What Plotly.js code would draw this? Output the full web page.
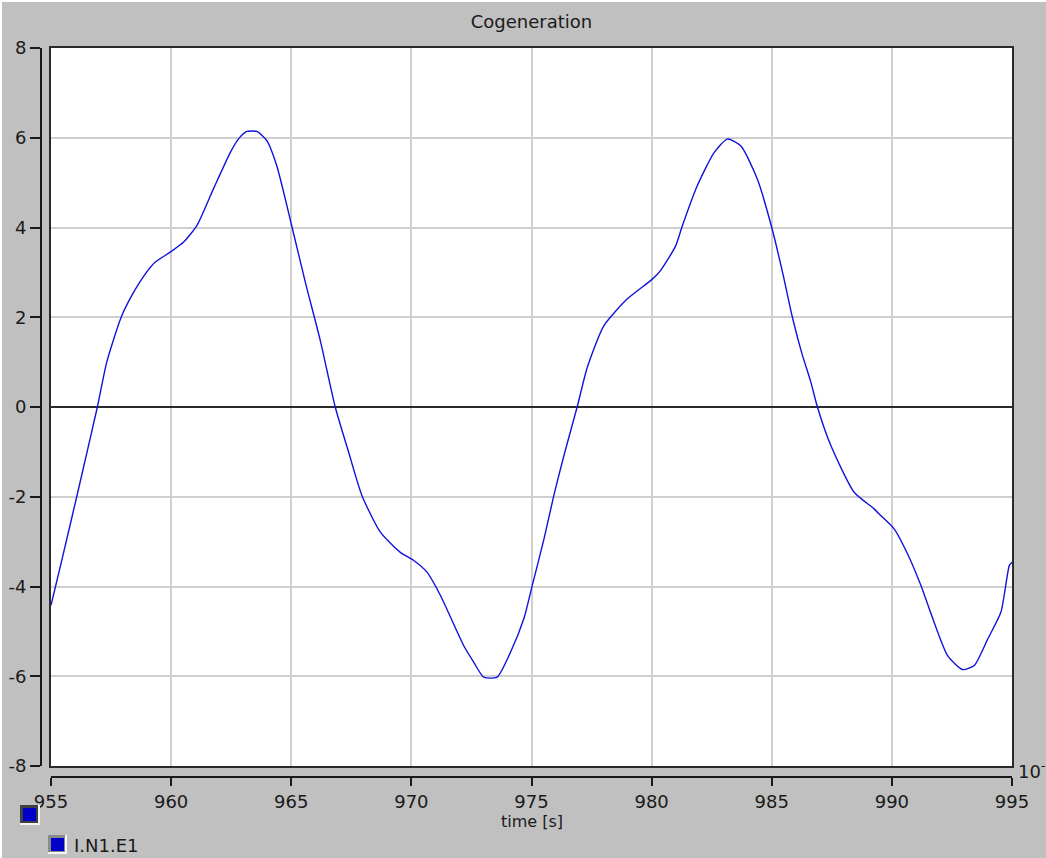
<!DOCTYPE html>
<html>
<head>
<meta charset="utf-8">
<script src="https://cdn.plot.ly/plotly-3.0.1.min.js"></script>
<style>
html,body{margin:0;padding:0;background:#c0c0c0;}
#chart{width:1046px;height:858px;}
</style>
</head>
<body>
<div id="chart"></div>
<script>
// ---- data ----
const timeS = [955.0, 955.5, 956.07, 956.93, 957.32, 957.92, 958.36, 958.92, 959.32, 959.96, 960.51, 961.07, 961.76, 962.46, 962.8, 963.15, 963.57, 963.99, 964.4, 965.02, 965.6, 966.2, 966.83, 967.39, 967.94, 968.71, 969.54, 970.1, 970.65, 971.21, 972.18, 972.6, 973.01, 973.57, 974.13, 974.68, 975.03, 975.52, 975.93, 976.35, 976.9, 977.32, 978.01, 978.99, 980.03, 980.37, 981.0, 981.28, 981.9, 982.6, 983.15, 983.71, 984.4, 985.0, 985.45, 985.86, 986.25, 986.63, 986.9, 987.46, 988.43, 989.26, 989.54, 990.1, 990.65, 991.21, 991.76, 992.32, 992.94, 993.43, 993.99, 994.54, 994.89, 995.0];
const seriesE1 = [-4.42, -3.3, -2.0, 0.0, 1.0, 2.0, 2.48, 2.96, 3.22, 3.45, 3.67, 4.04, 4.86, 5.67, 5.97, 6.14, 6.14, 5.93, 5.37, 4.04, 2.75, 1.5, 0.0, -1.01, -1.97, -2.79, -3.24, -3.42, -3.68, -4.2, -5.32, -5.69, -6.02, -6.02, -5.46, -4.72, -3.98, -2.94, -1.97, -1.08, 0.0, 0.88, 1.81, 2.41, 2.85, 3.04, 3.59, 4.04, 4.93, 5.67, 5.97, 5.82, 5.08, 4.0, 3.0, 2.0, 1.2, 0.55, 0.0, -0.86, -1.9, -2.27, -2.42, -2.72, -3.27, -3.98, -4.8, -5.54, -5.85, -5.76, -5.17, -4.57, -3.53, -3.46];
const seriesName = 'I.N1.E1';
const chartTitle = 'Cogeneration';
const xAxisTitle = 'time [s]';
const xScaleNote = '10<sup>-</sup>';
const xTickVals = [955, 960, 965, 970, 975, 980, 985, 990, 995];
const xTickText = ['955', '960', '965', '970', '975', '980', '985', '990', '995'];
const yTickVals = [-8, -6, -4, -2, 0, 2, 4, 6, 8];
const yTickText = ['-8', '-6', '-4', '-2', '0', '2', '4', '6', '8'];
const xRange = [955, 995];
const yRange = [-8, 8];

// ---- layout helpers (pixel -> paper) ----
const ML = 41, MR = 34, MT = 48, MB = 81, W = 1046, H = 858;
const PW = W - ML - MR, PH = H - MT - MB;
const px = p => (p - ML) / PW;
const py = p => (H - MB - p) / PH;
const FONT = 'DejaVu Sans, sans-serif';

const traces = [
  {
    x: timeS, y: seriesE1, name: seriesName, type: 'scatter', mode: 'lines',
    line: {color: '#1212dc', width: 1.4, shape: 'spline', smoothing: 0.6},
    xaxis: 'x', yaxis: 'y', showlegend: false, hoverinfo: 'x+y'
  },
  {
    x: timeS, y: seriesE1, type: 'scatter', mode: 'lines',
    line: {color: 'rgba(0,0,0,0)', width: 0},
    xaxis: 'x2', yaxis: 'y2', showlegend: false, hoverinfo: 'skip'
  }
];

function rect(x0, y0, x1, y1, fill) {
  return {type: 'rect', xref: 'paper', yref: 'paper', x0: px(x0), x1: px(x1), y0: py(y1), y1: py(y0),
          fillcolor: fill, line: {width: 0}, layer: 'above'};
}

const layout = {
  width: W, height: H,
  paper_bgcolor: '#c0c0c0', plot_bgcolor: '#ffffff',
  margin: {l: ML, r: MR, t: MT, b: MB, pad: 0},
  font: {family: FONT, size: 18, color: '#1a1a1a'},
  title: {text: chartTitle, font: {family: FONT, size: 18, color: '#1a1a1a'},
          xref: 'container', yref: 'container', x: 531.5 / W, xanchor: 'center', y: 1 - 22 / H, yanchor: 'middle'},
  showlegend: false,
  xaxis: {
    domain: [px(51), 1], range: xRange, showticklabels: false, ticks: '',
    tickvals: xTickVals, showgrid: true, gridcolor: '#cfcfcf', gridwidth: 2,
    zeroline: false, showline: true, mirror: true, linecolor: '#2a2a2a', linewidth: 2, fixedrange: true
  },
  yaxis: {
    domain: [py(766), 1], range: yRange, showticklabels: false, ticks: '',
    tickvals: yTickVals, showgrid: true, gridcolor: '#cfcfcf', gridwidth: 2,
    zeroline: true, zerolinecolor: '#2a2a2a', zerolinewidth: 2,
    showline: true, mirror: true, linecolor: '#2a2a2a', linewidth: 2, fixedrange: true
  },
  xaxis2: {
    overlaying: 'x', anchor: 'free', position: 0, range: xRange,
    tickmode: 'array', tickvals: xTickVals, ticktext: xTickText,
    ticks: 'outside', ticklen: 8, tickwidth: 2, tickcolor: '#1a1a1a',
    showline: true, linecolor: '#1a1a1a', linewidth: 2, showgrid: false, zeroline: false,
    tickfont: {family: FONT, size: 18, color: '#1a1a1a'},
    fixedrange: true
  },
  yaxis2: {
    overlaying: 'y', anchor: 'free', position: 0, range: yRange, side: 'left',
    tickmode: 'array', tickvals: yTickVals, ticktext: yTickText,
    ticks: 'outside', ticklen: 10, tickwidth: 2, tickcolor: '#1a1a1a',
    showline: true, linecolor: '#1a1a1a', linewidth: 2, showgrid: false, zeroline: false,
    tickfont: {family: FONT, size: 18, color: '#1a1a1a'},
    fixedrange: true
  },
  annotations: [
    {text: xAxisTitle, xref: 'paper', yref: 'paper', x: px(531.5), y: py(821),
     xanchor: 'center', yanchor: 'middle', showarrow: false, font: {family: FONT, size: 16, color: '#1a1a1a'}},
    {text: xScaleNote, xref: 'paper', yref: 'paper', x: px(1016), y: py(770),
     xanchor: 'left', yanchor: 'middle', showarrow: false, font: {family: FONT, size: 18, color: '#1a1a1a'}},
    {text: seriesName, xref: 'paper', yref: 'paper', x: px(72), y: py(846),
     xanchor: 'left', yanchor: 'middle', showarrow: false, font: {family: FONT, size: 18, color: '#1a1a1a'}}
  ],
  shapes: [
    // window frame highlight
    rect(0, 0, W, 2, '#ffffff'),
    rect(0, 0, 2, H, '#ffffff'),
    // header legend icon
    rect(20, 805, 40, 825, '#f4f4f4'),
    rect(20, 805, 38, 823, '#404040'),
    rect(23, 808, 36, 821, '#0000c8'),
    // series legend icon
    rect(48, 835, 67, 854, '#f4f4f4'),
    rect(48, 835, 65, 852, '#8a8a8a'),
    rect(51, 838, 64, 851, '#0000c8')
  ]
};

Plotly.newPlot('chart', traces, layout, {staticPlot: true, displayModeBar: false});
</script>
</body>
</html>
